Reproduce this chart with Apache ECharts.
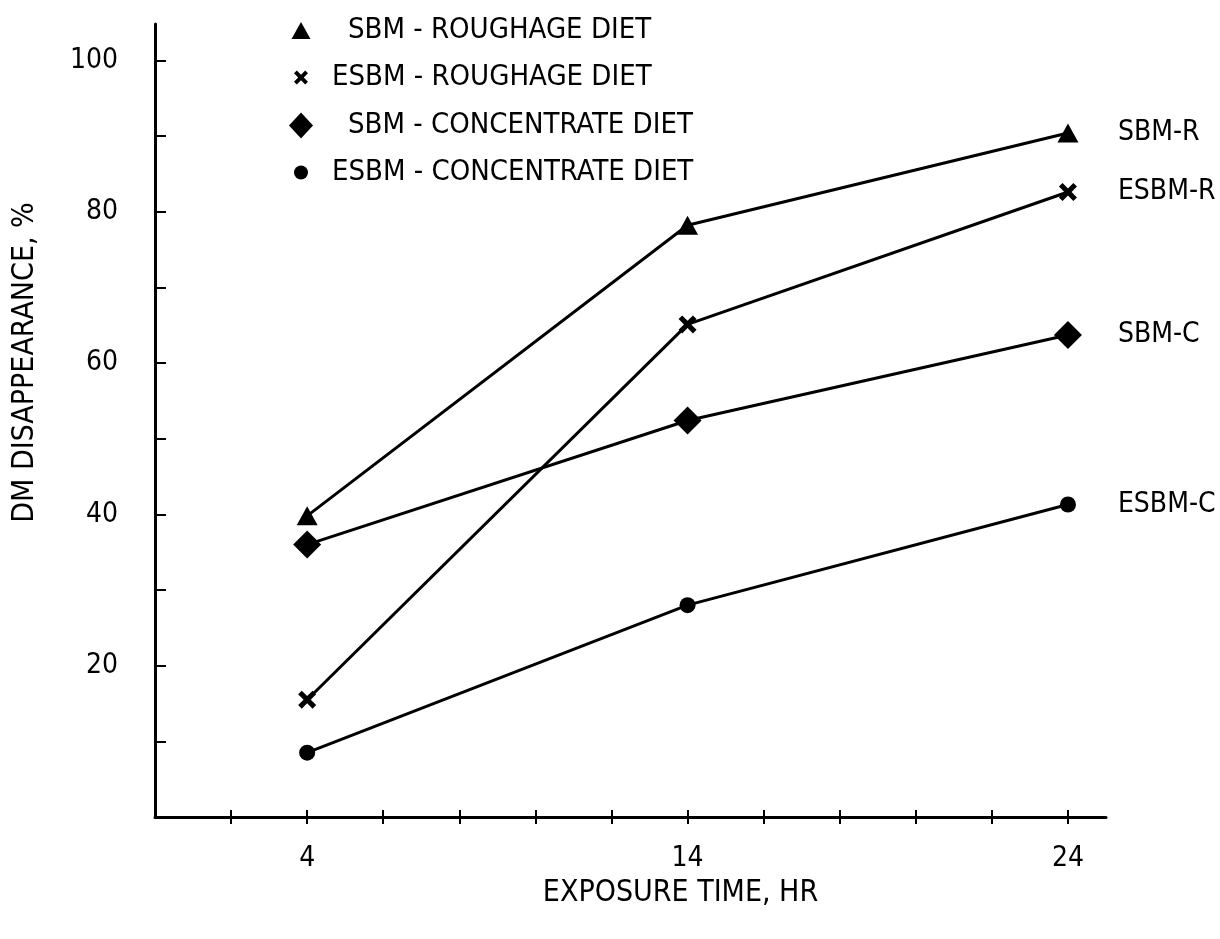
<!DOCTYPE html>
<html>
<head>
<meta charset="utf-8">
<style>
  html, body { margin: 0; padding: 0; background: #fff; }
  #chart { width: 1220px; height: 939px; }
</style>
<script src="https://cdn.jsdelivr.net/npm/echarts@6/dist/echarts.min.js"></script>
</head>
<body>
<div id="chart"></div>
<script>
// Exposure times (hr) and dry-matter disappearance (%) for each meal/diet combination
const hours = [4, 14, 24];
const sbmRoughage = [39.8, 78.2, 90.4];
const esbmRoughage = [15.5, 65.1, 82.6];
const sbmConcentrate = [36.0, 52.4, 63.7];
const esbmConcentrate = [8.5, 28.0, 41.3];

const seriesNames = ['SBM - ROUGHAGE DIET', 'ESBM - ROUGHAGE DIET', 'SBM - CONCENTRATE DIET', 'ESBM - CONCENTRATE DIET'];
const endNames = ['SBM-R', 'ESBM-R', 'SBM-C', 'ESBM-C'];

const xTickValues = [2, 4, 6, 8, 10, 12, 14, 16, 18, 20, 22, 24];
const xLabelValues = [4, 14, 24];
const yTickValues = [10, 20, 30, 40, 50, 60, 70, 80, 90, 100];
const yLabelValues = [20, 40, 60, 80, 100];

const FONT = '"DejaVu Sans Condensed", "Liberation Sans Narrow", sans-serif';
const INK = '#000';
const CROSS = 'path://M2,0 L5,3 L8,0 L10,2 L7,5 L10,8 L8,10 L5,7 L2,10 L0,8 L3,5 L0,2 Z';

const symbols = ['triangle', CROSS, 'diamond', 'circle'];
const symbolSizes = [[21, 19], 18, [28, 28], 16];
const valueSets = [sbmRoughage, esbmRoughage, sbmConcentrate, esbmConcentrate];

// legend rows: icon size, row centre, where the text starts
const legendIcon = [[19, 17], [14, 14], [24, 26], [14, 14]];
const legendRowY = [27, 74, 122, 169];
const legendTextX = [343, 327, 343, 327];
const ICON_CX = 296;

const chart = echarts.init(document.getElementById('chart'));

const legends = seriesNames.map((name, i) => {
  const [w, h] = legendIcon[i];
  return {
    orient: 'vertical',
    left: ICON_CX - w / 2,
    top: legendRowY[i] - 16,
    itemWidth: w,
    itemHeight: h,
    selectedMode: false,
    data: [{ name: name, icon: symbols[i] }],
    itemStyle: { color: INK },
    textStyle: {
      fontFamily: FONT, fontSize: 29, color: INK,
      padding: [0, 0, 0, legendTextX[i] - (ICON_CX + w / 2 + 5)]
    }
  };
});

const series = seriesNames.map((name, i) => ({
  name: name,
  type: 'line',
  data: hours.map((h, k) => [h, valueSets[i][k]]),
  symbol: symbols[i],
  symbolSize: symbolSizes[i],
  showAllSymbol: true,
  lineStyle: { color: INK, width: 3 },
  itemStyle: { color: INK },
  z: 3,
  endLabel: {
    show: true,
    formatter: endNames[i],
    fontFamily: FONT,
    fontSize: 28,
    color: INK,
    distance: 50
  }
}));

const axisFont = { fontFamily: FONT, fontSize: 28, color: INK };
const nameFont = { fontFamily: FONT, fontSize: 30, color: INK };

chart.setOption({
  backgroundColor: '#fff',
  animation: false,
  legend: legends,
  grid: { left: 155, right: 114, top: 24, bottom: 122 },
  xAxis: [
    {
      type: 'value', min: 0, max: 25,
      name: 'EXPOSURE TIME, HR',
      nameLocation: 'middle',
      nameGap: 60,
      nameTextStyle: Object.assign({ padding: [0, 0, 0, 100] }, nameFont),
      axisLine: { show: true, lineStyle: { color: INK, width: 3 } },
      axisTick: { show: true, inside: true, length: 7, customValues: xTickValues, lineStyle: { color: INK, width: 2 } },
      axisLabel: Object.assign({ customValues: xLabelValues, margin: 28 }, axisFont),
      splitLine: { show: false }
    },
    {
      type: 'value', min: 0, max: 25, position: 'bottom',
      axisLine: { show: false },
      axisTick: { show: true, inside: false, length: 7, customValues: xTickValues, lineStyle: { color: INK, width: 2 } },
      axisLabel: { show: false },
      splitLine: { show: false }
    }
  ],
  yAxis: {
    type: 'value', min: 0, max: 104.8,
    name: 'DM DISAPPEARANCE, %',
    nameLocation: 'middle',
    nameGap: 115,
    nameTextStyle: Object.assign({ padding: [0, 0, 0, 116] }, nameFont),
    axisLine: { show: true, lineStyle: { color: INK, width: 3 } },
    axisTick: { show: true, inside: true, length: 11, customValues: yTickValues, lineStyle: { color: INK, width: 2 } },
    axisLabel: Object.assign({ customValues: yLabelValues, margin: 37 }, axisFont),
    splitLine: { show: false }
  },
  series: series
});
</script>
</body>
</html>
